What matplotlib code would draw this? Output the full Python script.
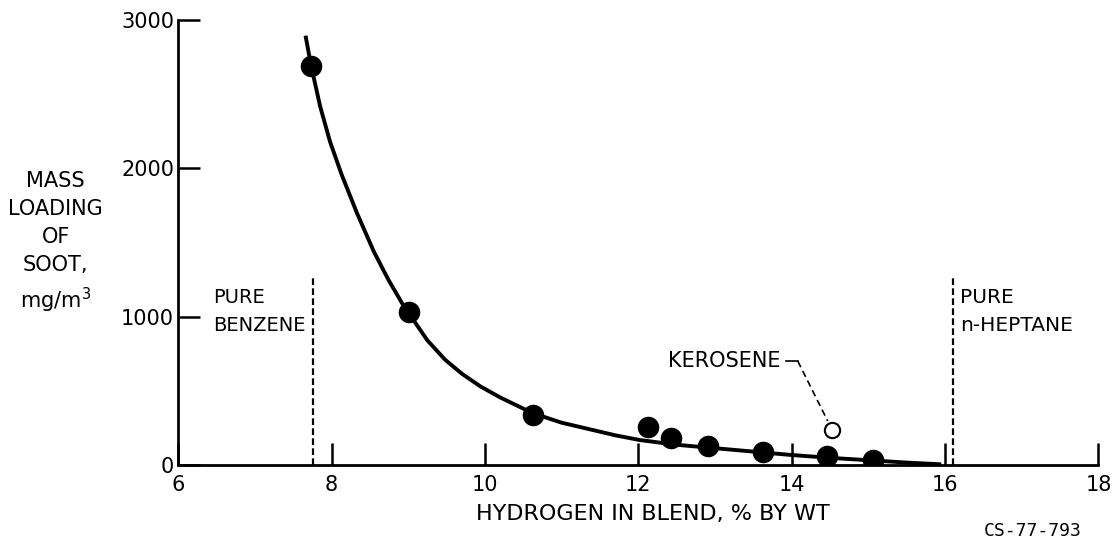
import matplotlib
matplotlib.use("Agg")
import matplotlib.pyplot as plt

# measured soot loading vs hydrogen content
h_pct = [7.73, 9.01, 10.62, 12.13, 12.43, 12.91, 13.63, 14.46, 15.06]
soot = [2694, 1030, 337, 256, 182, 128, 88, 61, 34]

# kerosene (open symbol)
kero_h = [14.53]
kero_soot = [236]

# faired curve
curve_h = [7.66, 7.73, 7.85, 7.98, 8.13, 8.33, 8.55, 8.74, 8.92, 9.01, 9.25, 9.48, 9.70,
           9.94, 10.2, 10.62, 11.0, 11.24, 11.7, 12.02, 12.5, 13.0, 13.5, 14.0, 14.5,
           15.06, 15.5, 15.95]
curve_soot = [2896, 2700, 2420, 2180, 1960, 1700, 1440, 1250, 1090, 1020, 840, 710, 615,
              530, 455, 350, 285, 256, 200, 168, 136, 113, 90, 67, 48,
              30, 16, 4]

benzene_h = 7.76
heptane_h = 16.10
pure_line_top = 1280

xticks = [6, 8, 10, 12, 14, 16, 18]
yticks = [0, 1000, 2000, 3000]

plt.rcParams["font.family"] = "DejaVu Sans"

fig = plt.figure(figsize=(11.14, 5.47), dpi=100)
ax = fig.add_axes([0.160, 0.150, 0.826, 0.813])

ax.plot(curve_h, curve_soot, color="black", linewidth=2.8, solid_capstyle="butt")
ax.plot(h_pct, soot, "o", color="black", markersize=14.5, zorder=3)
ax.plot(kero_h, kero_soot, "o", markerfacecolor="white", markeredgecolor="black",
        markersize=11, markeredgewidth=1.5, zorder=3)

ax.plot([benzene_h, benzene_h], [0, pure_line_top], color="black", linestyle=(0, (3, 1.5)), linewidth=1.6)
ax.plot([heptane_h, heptane_h], [0, pure_line_top], color="black", linestyle=(0, (3, 1.5)), linewidth=1.6)

ax.text(6.46, 1035, "PURE\nBENZENE", fontsize=14, ha="left", va="center", linespacing=1.6)
ax.text(16.2, 1035, "PURE\nn-HEPTANE", fontsize=14.5, ha="left", va="center", linespacing=1.55)

# kerosene label and leader
ax.text(13.85, 700, "KEROSENE", fontsize=15, ha="right", va="center")
ax.plot([13.93, 14.08], [700, 700], color="black", linewidth=1.2)
ax.plot([14.08, 14.47], [700, 296], color="black", linewidth=1.2, linestyle=(0, (4, 2.5)))

ax.set_xlim(6, 18)
ax.set_ylim(0, 3000)
ax.set_xticks(xticks)
ax.set_yticks(yticks)
ax.tick_params(direction="in", length=16, width=1.8, labelsize=15)
ax.tick_params(axis="x", pad=7)
ax.tick_params(axis="y", pad=3)
for side in ["top", "right"]:
    ax.spines[side].set_visible(False)
for side in ["left", "bottom"]:
    ax.spines[side].set_linewidth(2)

ax.set_xlabel("HYDROGEN IN BLEND, % BY WT", fontsize=16)
ax.xaxis.set_label_coords(0.516, -0.110)
ax.xaxis.label.set_va("center")
fig.text(0.050, 0.556, "MASS\nLOADING\nOF\nSOOT,\nmg/m$^3$", fontsize=15, ha="center", va="center",
         linespacing=1.5)
fig.text(0.971, 0.03, "CS-77-793", fontsize=13, ha="right", va="center", family="DejaVu Sans Mono")

fig.savefig("out.png", dpi=100)
